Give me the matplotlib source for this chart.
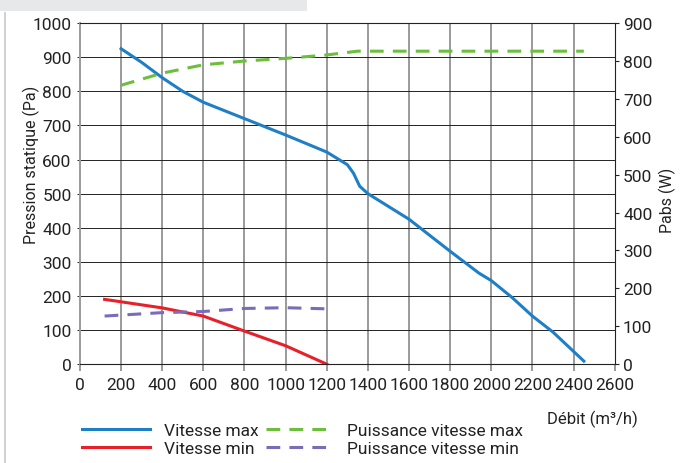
import matplotlib.pyplot as plt
import numpy as np

plt.rcParams['font.family'] = ['Roboto', 'DejaVu Sans']

# Vitesse max - pression (Pa)
q_max = [200, 300, 400, 500, 600, 800, 1000, 1200, 1300, 1330, 1360, 1400, 1600, 1800, 1940, 2000, 2100, 2200, 2300, 2450]
p_max = [925, 885, 840, 800, 768, 720, 672, 622, 585, 560, 522, 500, 425, 331, 267, 245, 196, 141, 94, 9]

# Vitesse min - pression (Pa)
q_min = [120, 400, 600, 650, 800, 1000, 1200]
p_min = [190, 165, 141, 130, 97, 54, 0]

# Puissance vitesse max (W)
q_pmax = [200, 400, 600, 800, 1000, 1200, 1350, 1400, 2450]
w_pmax = [736, 768, 790, 800, 807, 816, 826, 826, 826]

# Puissance vitesse min (W)
q_pmin = [120, 400, 600, 800, 1000, 1200]
w_pmin = [127, 136, 139, 147, 149, 146]

txt = '#222222'

fig = plt.figure(figsize=(6.83, 4.64), dpi=100)
ax = fig.add_axes([0.117, 0.213, 0.783, 0.735])
ax2 = ax.twinx()

ax.set_xlim(0, 2600)
ax.set_ylim(0, 1000)
ax2.set_ylim(0, 900)
ax.set_xticks(np.arange(0, 2601, 200))
ax.set_yticks(np.arange(0, 1001, 100))
ax2.set_yticks(np.arange(0, 901, 100))

# grid: grey verticals, black horizontals
for x in np.arange(200, 2600, 200):
    ax.axvline(x, color='#9a9a9a', lw=1.4, zorder=0)
for y in np.arange(100, 1000, 100):
    ax.axhline(y, color=txt, lw=0.7, zorder=0)

for s in ['top', 'bottom']:
    ax.spines[s].set_color(txt)
    ax.spines[s].set_linewidth(0.8)
ax.spines['left'].set_color('#9a9a9a')
ax.spines['left'].set_linewidth(1.4)
ax.spines['right'].set_visible(False)
for s in ['top', 'bottom', 'left']:
    ax2.spines[s].set_visible(False)
ax2.spines['right'].set_color(txt)
ax2.spines['right'].set_linewidth(0.8)

ax.tick_params(axis='x', length=5, width=1.4, color='#9a9a9a', labelsize=12.5, pad=4, labelcolor=txt)
ax.tick_params(axis='y', length=2, width=0.7, color=txt, labelsize=12.5, pad=4, labelcolor=txt)
ax2.tick_params(axis='y', length=3, width=0.8, color=txt, labelsize=12.5, pad=3, labelcolor=txt)

l1, = ax.plot(q_max, p_max, color='#1f7fc6', lw=2.2, label='Vitesse max')
l2, = ax.plot(q_min, p_min, color='#e8202a', lw=2.2, label='Vitesse min')
l3, = ax2.plot(q_pmax, w_pmax, color='#6cbf3c', lw=2.2, dashes=(4.5, 3), label='Puissance vitesse max')
l4, = ax2.plot(q_pmin, w_pmin, color='#7a6cb8', lw=2.2, dashes=(4.5, 3), label='Puissance vitesse min')

fig.text(31 / 683, 1 - 165 / 464, 'Pression statique (Pa)', rotation=90, fontsize=11.5,
         ha='center', va='center', color=txt)
fig.text(667 / 683, 1 - 200 / 464, 'Pabs (W)', rotation=90, fontsize=11.5,
         ha='center', va='center', color=txt)
fig.text(547 / 683, 1 - 419 / 464, 'Débit (m³/h)', fontsize=12, ha='left', va='center', color=txt)

fig.legend(handles=[l1, l2, l3, l4], ncol=2, loc='upper left',
           bbox_to_anchor=(0.108, 0.105), frameon=False, fontsize=12.5,
           handlelength=3.9, handletextpad=0.8, columnspacing=0.4,
           labelspacing=0.17, borderpad=0, labelcolor=txt)

# frame decorations
fig.add_artist(plt.Line2D([0.008, 0.008], [0, 0.97], color='#c8c8c8', lw=1.2))
fig.add_artist(plt.Rectangle((0, 0.975), 0.45, 0.025, color='#e6e8ea', lw=0))

fig.savefig('out.png', dpi=100)
